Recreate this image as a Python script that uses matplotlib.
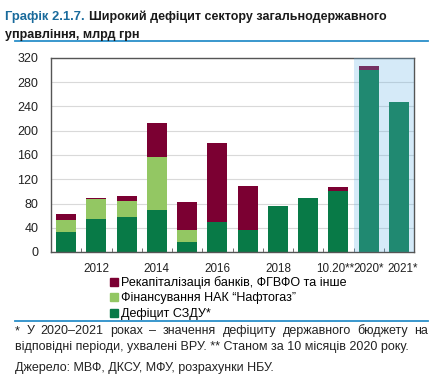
import numpy as np
import matplotlib
matplotlib.use("Agg")
import matplotlib.pyplot as plt
import matplotlib.transforms as mtrans
from matplotlib.patches import Patch
from matplotlib.lines import Line2D

plt.rcParams['font.family'] = ['Liberation Sans', 'DejaVu Sans']

# дані
categories = ["2011", "2012", "2013", "2014", "2015", "2016", "2017", "2018",
              "2019", "10.20**", "2020*", "2021*"]
deficit = [33, 55, 58, 70, 16, 50, 37, 76, 89, 100, 300, 247]
naftogaz = [20, 32, 26, 87, 21, 0, 0, 0, 0, 0, 0, 0]
banks = [9, 2, 8, 55, 46, 129, 72, 0, 0, 7, 6, 0]
tick_labels = ["", "2012", "", "2014", "", "2016", "", "2018", "",
               "10.20**", "2020*", "2021*"]
legend_labels = ["Рекапіталізація банків, ФГВФО та інше",
                 "Фінансування НАК “Нафтогаз”",
                 "Дефіцит СЗДУ*"]

c_green = "#087a47"
c_light = "#93c763"
c_maroon = "#7b0032"
c_blue = "#2a8fc9"

fig = plt.figure(figsize=(4.41, 3.78), dpi=100)
ax = fig.add_axes([51/441, 1 - 252/378, 363/441, 194/378])

x = np.arange(len(categories))
d = np.array(deficit)
n = np.array(naftogaz)
b = np.array(banks)
w = 0.66
ax.bar(x, d, w, color=c_green, zorder=2)
ax.bar(x, n, w, bottom=d, color=c_light, zorder=2)
ax.bar(x, b, w, bottom=d + n, color=c_maroon, zorder=2)

# прогнозна зона
ax.axvspan(9.5, 11.5, color=(100/255, 180/255, 230/255), alpha=0.27, lw=0, zorder=3)

ax.set_xlim(-0.5, 11.5)
ax.set_ylim(0, 320)
ax.set_yticks(range(0, 321, 40))
ax.yaxis.grid(True, color="#d9d9d9", lw=0.8, zorder=0)
ax.set_axisbelow(True)
ax.tick_params(axis='y', length=0, labelsize=9, pad=9, colors="#222222")
ax.set_xticks(x)
ax.set_xticklabels(tick_labels)
ax.tick_params(axis='x', length=0, labelsize=8.4, pad=8, colors="#222222")
ax.set_xticks(np.arange(0.5, 10.6, 1), minor=True)
ax.tick_params(axis='x', which='minor', direction='in', length=3, color="#555555")
for s in ax.spines.values():
    s.set_color("#555555")
    s.set_linewidth(1.0)

# трохи розсунути підписи, що стикаються
shifts = {9: -3, 10: 0.5, 11: 3.5}
for i, lab in enumerate(ax.get_xticklabels()):
    if i in shifts:
        lab.set_transform(lab.get_transform() +
                          mtrans.ScaledTranslation(shifts[i] / 100, 0, fig.dpi_scale_trans))

fig.canvas.draw()
r = fig.canvas.get_renderer()

# заголовок
t1 = fig.text(5/441, 1 - 17/378, "Графік 2.1.7.", color="#1a6b9c", fontsize=9.4,
              fontweight='bold', va='center')
w1 = t1.get_window_extent(r).width
fig.text((5 + w1 + 4)/441, 1 - 17/378, "Широкий дефіцит сектору загальнодержавного",
         color="#1a1a1a", fontsize=9.0, fontweight='bold', va='center')
fig.text(5/441, 1 - 35/378, "управління, млрд грн", color="#1a1a1a",
         fontsize=9.0, fontweight='bold', va='center')
fig.add_artist(Line2D([15/441, 428/441], [1 - 41/378, 1 - 41/378],
                      color=c_blue, lw=1.3))
fig.add_artist(Line2D([15/441, 428/441], [1 - 321/378, 1 - 321/378],
                      color=c_blue, lw=1.3))

handles = [Patch(color=c_maroon), Patch(color=c_light), Patch(color=c_green)]
fig.legend(handles, legend_labels, loc='upper left',
           bbox_to_anchor=(110/441, 1 - 276/378), frameon=False, fontsize=9,
           handlelength=0.6, handleheight=0.6, handletextpad=0.25,
           labelspacing=0.28, borderaxespad=0, borderpad=0)

# примітки (перший рядок вирівняний по ширині)
words = "* У 2020–2021 роках – значення дефіциту державного бюджету на".split()
arts = [fig.text(0, 1 - 331/378, wd, fontsize=9, color="#222222", va='center')
        for wd in words]
widths = [a.get_window_extent(r).width for a in arts]
x0, x1 = 15, 428
gap = (x1 - x0 - sum(widths)) / (len(words) - 1)
pos = x0
for a, wd in zip(arts, widths):
    a.set_x(pos / 441)
    pos += wd + gap
fig.text(15/441, 1 - 347/378,
         "відповідні періоди, ухвалені ВРУ. ** Станом за 10 місяців 2020 року.",
         fontsize=9, color="#222222", va='center')
fig.text(15/441, 1 - 368/378, "Джерело: МВФ, ДКСУ, МФУ, розрахунки НБУ.",
         fontsize=9, color="#222222", va='center')

fig.savefig("out.png", dpi=100)
